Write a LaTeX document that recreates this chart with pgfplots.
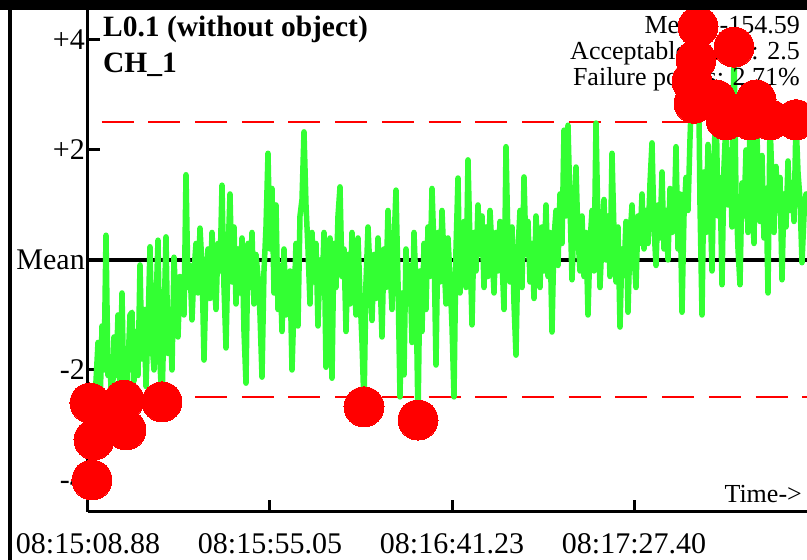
\documentclass[border=0pt]{standalone}
\usepackage{pgfplots}
\pgfplotsset{compat=1.18}
\usepackage{fontspec}
\setmainfont{Liberation Serif}
\definecolor{sig}{RGB}{51,255,51}
\definecolor{fail}{RGB}{255,0,0}

\begin{document}
\begin{tikzpicture}
\useasboundingbox (-88pt,-48pt) rectangle (719pt,512pt);
\begin{axis}[
  scale only axis, width=719pt, height=502pt,
  xmin=0, xmax=719, ymin=-4.582, ymax=4.545,
  axis lines=left, axis line style={-, line width=3pt},
  clip=false,
  xtick={0,182,364,546},
  xticklabels={08:15:08.88,08:15:55.05,08:16:41.23,08:17:27.40},
  ytick={-4,-2,0,2,4},
  yticklabels={-4,-2,Mean,+2,+4},
  tick align=inside, major tick length=12pt,
  tick style={black, line width=3pt},
  ticklabel style={font=\fontsize{30}{30}\selectfont},
  xticklabel style={yshift=-18pt},
  yticklabel style={inner sep=3pt},
]
% mean and limits
\addplot[black, line width=4pt] coordinates {(0,0) (719,0)};
\addplot[fail, line width=2pt, dash pattern=on 32pt off 14.7pt, dash phase=33pt] coordinates {(0,2.5) (719,2.5)};
\addplot[fail, line width=2pt, dash pattern=on 32pt off 14.7pt, dash phase=33pt] coordinates {(0,-2.5) (719,-2.5)};

% signal
\addplot[sig, line width=5.5pt, line join=round, line cap=round] coordinates {
(0,-2.6)(2,-2.6)(4,-4.0)(6,-3.27)(8,-2.2)(10,-1.5)(12,-2.75)(14,-1.2)(16,-2.0)(18,0.45)
(20,-2.1)(22,-1.76)(24,-2.96)(26,-1.4)(28,-2.1)(30,-1.0)(32,-2.4)(34,-0.6)(36,-2.55)(38,-3.09)
(40,-1.9)(42,-1.0)(44,-0.95)(46,-2.2)(48,-1.3)(50,-2.1)(52,-0.09)(54,-1.8)(56,-0.9)(58,-2.3)
(60,-1.2)(62,0.24)(64,-1.5)(66,-2.0)(68,-0.8)(70,0.36)(72,-1.9)(74,-2.58)(76,-1.1)(78,0.42)
(80,-1.7)(82,-0.9)(84,-2.0)(86,0.05)(88,-0.8)(90,-1.4)(92,-0.3)(94,-0.7)(96,-1.0)(98,1.55)
(100,-0.5)(102,-0.1)(104,-1.09)(106,-0.2)(108,0.3)(110,-0.6)(112,0.58)(114,-0.1)(116,-1.82)(118,-0.4)
(120,0.2)(122,-0.7)(124,0.5)(126,-0.3)(128,-0.9)(130,0.3)(132,-0.2)(134,1.36)(136,-0.5)(138,-1.6)
(140,0.1)(142,1.2)(144,-0.4)(146,0.6)(148,-0.8)(150,0.2)(152,-0.6)(154,0.4)(156,-1.3)(158,-2.24)
(160,0.3)(162,-0.5)(164,0.5)(166,-0.8)(168,0.1)(170,-0.3)(172,-1.0)(174,-2.13)(176,-0.2)(178,0.6)
(180,1.94)(182,0.2)(184,1.3)(186,-0.6)(188,1.0)(190,-0.9)(192,-0.1)(194,-1.3)(196,0.2)(198,-1.0)
(200,-0.5)(202,-0.2)(204,-2.0)(206,-0.8)(208,0.3)(210,-1.2)(212,0.8)(214,1.1)(216,2.33)(218,1.0)
(220,0.2)(222,-0.8)(224,0.5)(226,-0.4)(228,0.3)(230,-1.2)(232,0.0)(234,-0.6)(236,0.5)(238,-1.95)
(240,-0.2)(242,0.4)(244,-2.15)(246,0.3)(248,-0.5)(250,0.8)(252,1.33)(254,-0.3)(256,0.2)(258,-1.3)
(260,0.1)(262,-0.8)(264,0.5)(266,-0.3)(268,-1.0)(270,0.4)(272,-0.6)(274,-1.5)(276,-2.67)(278,-0.4)
(280,0.6)(282,-0.2)(284,-1.1)(286,0.1)(288,-0.7)(290,0.4)(292,-0.3)(294,-1.4)(296,0.2)(298,-0.5)
(300,0.9)(302,-0.1)(304,-0.9)(306,0.3)(308,1.27)(310,-0.4)(312,-2.49)(314,-0.6)(316,-2.09)(318,0.2)
(320,-0.8)(322,-0.1)(324,-1.5)(326,0.5)(328,-0.5)(330,-2.91)(332,-0.2)(334,-1.3)(336,0.3)(338,-0.9)
(340,0.6)(342,-0.3)(344,1.3)(346,0.2)(348,-1.91)(350,0.5)(352,-0.4)(354,0.9)(356,0.0)(358,-0.8)
(360,0.4)(362,-0.3)(364,-1.2)(366,-2.49)(368,0.2)(370,1.49)(372,-0.6)(374,0.4)(376,0.7)(378,-0.5)
(380,1.82)(382,0.3)(384,-1.18)(386,0.5)(388,-0.2)(390,1.0)(392,0.1)(394,0.8)(396,-0.5)(398,0.6)
(400,-0.3)(402,0.9)(404,0.2)(406,-0.6)(408,0.5)(410,-0.2)(412,0.7)(414,0.0)(416,-0.9)(418,2.06)
(420,0.3)(422,-0.4)(424,0.6)(426,-0.8)(428,-1.73)(430,0.2)(432,0.9)(434,-0.5)(436,1.51)(438,0.1)
(440,0.7)(442,-0.4)(444,0.3)(446,-0.7)(448,0.8)(450,0.2)(452,-0.5)(454,0.6)(456,-0.2)(458,1.0)
(460,-0.3)(462,0.5)(464,-1.31)(466,0.4)(468,0.9)(470,-0.1)(472,1.2)(474,0.3)(476,2.36)(478,0.8)
(480,2.45)(482,1.0)(484,-0.36)(486,0.7)(488,1.69)(490,0.4)(492,-0.2)(494,0.8)(496,-0.3)(498,0.5)
(500,-1.0)(502,0.3)(504,0.9)(506,-0.2)(508,2.49)(510,0.6)(512,-0.5)(514,0.4)(516,1.1)(518,0.0)
(520,0.8)(522,-0.3)(524,1.94)(526,0.5)(528,-0.4)(530,0.6)(532,-1.22)(534,0.2)(536,-0.2)(538,0.7)
(540,-0.95)(542,0.4)(544,1.0)(546,0.1)(548,-0.5)(550,0.8)(552,0.3)(554,1.2)(556,0.2)(558,0.9)
(560,0.3)(562,1.4)(564,2.13)(566,0.6)(568,-0.1)(570,1.0)(572,0.4)(574,1.6)(576,0.2)(578,0.9)
(580,0.0)(582,1.3)(584,0.5)(586,0.6)(588,2.06)(590,0.2)(592,1.2)(594,-0.95)(596,0.8)(598,1.5)
(600,0.9)(602,2.2)(604,3.25)(606,2.85)(608,3.64)(610,4.24)(612,1.0)(614,-1.0)(616,1.6)(618,0.5)
(620,2.1)(622,1.2)(624,-0.2)(626,1.8)(628,2.91)(630,0.8)(632,1.5)(634,-0.45)(636,1.7)(638,2.55)
(640,1.0)(642,2.0)(644,0.6)(646,3.87)(648,1.2)(650,0.2)(652,-0.45)(654,1.4)(656,0.8)(658,2.0)
(660,0.5)(662,2.55)(664,1.1)(666,0.3)(668,2.91)(670,1.6)(672,0.7)(674,1.9)(676,0.4)(678,1.3)
(680,-0.6)(682,2.55)(684,1.4)(686,0.5)(688,1.7)(690,0.9)(692,1.5)(694,-0.36)(696,1.2)(698,0.6)
(700,1.8)(702,0.9)(704,1.4)(706,0.7)(708,2.55)(710,1.6)(712,1.1)(714,-0.05)(716,0.8)(718,1.2)
};

\node[anchor=base west, inner sep=0, font=\bfseries\fontsize{29.5}{30}\selectfont] at (axis cs:15,4.055) {L0.1 (without object)};
\node[anchor=base west, inner sep=0, font=\bfseries\fontsize{29.5}{30}\selectfont] at (axis cs:15,3.4) {CH\_1};
\node[anchor=base east, inner sep=0, font=\fontsize{26}{26}\selectfont] at (axis cs:712,4.109) {Mean: -154.59};
\node[anchor=base east, inner sep=0, font=\fontsize{26}{26}\selectfont] at (axis cs:712,3.636) {Acceptable range: 2.5};
\node[anchor=base east, inner sep=0, font=\fontsize{26}{26}\selectfont] at (axis cs:712,3.164) {Failure points: 2.71\%};
\node[anchor=base east, inner sep=0, font=\fontsize{26}{26}\selectfont] at (axis cs:714,-4.418) {Time->};

% failure points
\addplot[fail, only marks, mark=*, mark size=20pt, mark options={draw=fail, fill=fail, line width=0pt}] coordinates {
(2,-2.6)(4,-4.0)(6,-3.27)(12,-2.75)(24,-2.96)(36,-2.55)(38,-3.09)(74,-2.58)
(276,-2.67)(330,-2.91)
(604,3.25)(606,2.85)(608,3.64)(610,4.24)(628,2.91)(638,2.55)(646,3.87)(662,2.55)(668,2.91)(682,2.55)(708,2.55)
};
\end{axis}
% window frame
\fill[black] (-88pt,502pt) rectangle (719pt,512pt);
\fill[black] (-80pt,-48pt) rectangle (-76pt,502pt);
\end{tikzpicture}
\end{document}
